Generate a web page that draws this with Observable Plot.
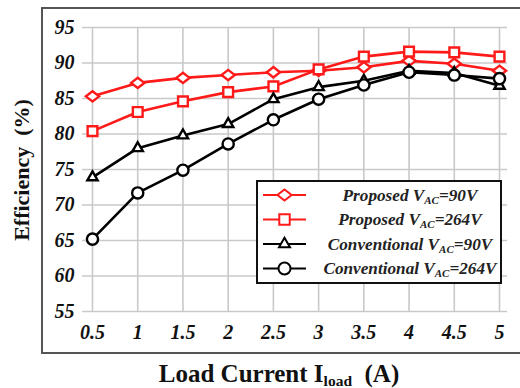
<!DOCTYPE html>
<html>
<head>
<meta charset="utf-8">
<script src="https://cdn.jsdelivr.net/npm/d3@7"></script>
<script src="https://cdn.jsdelivr.net/npm/@observablehq/plot@0.6"></script>
<style>
  html, body { margin: 0; padding: 0; background: #fff; }
  #chart svg { display: block; }
</style>
</head>
<body>
<div id="chart"></div>
<script>
// Load current (A)
const loadCurrent = [0.5, 1, 1.5, 2, 2.5, 3, 3.5, 4, 4.5, 5];
const xTicks = [0.5, 1, 1.5, 2, 2.5, 3, 3.5, 4, 4.5, 5];
const yTicks = [55, 60, 65, 70, 75, 80, 85, 90, 95];

// Efficiency (%) per converter / input voltage
const proposed90 = [85.3, 87.2, 87.9, 88.3, 88.7, 88.9, 89.4, 90.3, 89.9, 88.9];
const proposed264 = [80.4, 83.1, 84.6, 85.9, 86.7, 89.1, 90.9, 91.6, 91.5, 90.9];
const conventional90 = [73.9, 78.0, 79.8, 81.4, 84.9, 86.6, 87.5, 88.9, 88.6, 86.8];
const conventional264 = [65.2, 71.7, 74.9, 78.6, 82.0, 84.9, 86.9, 88.7, 88.3, 87.8];

const seriesNames = ["Proposed", "Proposed", "Conventional", "Conventional"];
const seriesVoltages = ["90V", "264V", "90V", "264V"];
const seriesColors = ["#ff1a1a", "#ff1a1a", "#000000", "#000000"];
const seriesValues = [proposed90, proposed264, conventional90, conventional264];

// Wide, flat diamond outline
const diamondWide = {
  draw(context, size) {
    const s = Math.sqrt(size);
    const w = s * 0.72, h = s * 0.56;
    context.moveTo(0, -h);
    context.lineTo(w, 0);
    context.lineTo(0, h);
    context.lineTo(-w, 0);
    context.closePath();
  }
};
const seriesSymbols = [diamondWide, "square2", "triangle2", "circle"];
const seriesR = [5.2, 6.2, 4.9, 5.6];

const rows = [];
seriesValues.forEach((vals, i) => {
  vals.forEach((v, j) => rows.push({ k: i, x: loadCurrent[j], y: v }));
});

const serif = "Liberation Serif";

const tickText = {
  fill: "#111", fontFamily: serif, fontWeight: "bold", fontStyle: "italic", fontSize: 20
};

const marks = [
  Plot.gridX(xTicks, { stroke: "#c9c9c9", strokeOpacity: 1, strokeWidth: 1.6 }),
  Plot.gridY(yTicks, { stroke: "#c9c9c9", strokeOpacity: 1, strokeWidth: 1.6 }),
  // tick labels
  Plot.text(xTicks, { ...tickText, x: d => d, text: d => String(d), frameAnchor: "bottom", lineAnchor: "middle", dy: 21 }),
  Plot.text(yTicks, { ...tickText, y: d => d, text: d => String(d), frameAnchor: "left", textAnchor: "end", dx: -8 })
];
seriesValues.forEach((vals, i) => {
  const d = rows.filter(r => r.k === i);
  marks.push(Plot.line(d, { x: "x", y: "y", stroke: seriesColors[i], strokeWidth: 2.6 }));
});
seriesValues.forEach((vals, i) => {
  const d = rows.filter(r => r.k === i);
  marks.push(Plot.dot(d, {
    x: "x", y: "y", symbol: () => seriesSymbols[i], r: seriesR[i],
    stroke: seriesColors[i], fill: "white", strokeWidth: 2.4
  }));
});

const chart = Plot.plot({
  width: 520,
  height: 388,
  marginLeft: 82,
  marginRight: 13,
  marginTop: 27,
  marginBottom: 77,
  insetLeft: 10,
  insetRight: 8,
  x: { domain: [0.5, 5], axis: null },
  y: { domain: [55, 95], axis: null },
  symbol: { type: "identity" },
  style: { background: "white", overflow: "visible" },
  marks
});

const svg = d3.select(chart);

// Outer border around the whole chart area
svg.insert("rect", ":first-child")
  .attr("x", 42).attr("y", 8).attr("width", 500).attr("height", 345)
  .attr("fill", "none").attr("stroke", "#555").attr("stroke-width", 2);

// Axis titles
svg.append("text")
  .attr("transform", "translate(29,170) rotate(-90)")
  .attr("text-anchor", "middle")
  .style("font-family", serif).style("font-weight", "bold").style("font-style", "normal")
  .style("font-size", "22px")
  .attr("fill", "#111")
  .attr("xml:space", "preserve")
  .text("Efficiency  (%)");

const xt = svg.append("text")
  .attr("x", 279).attr("y", 382)
  .attr("text-anchor", "middle")
  .style("font-family", serif).style("font-weight", "bold").style("font-style", "normal")
  .style("font-size", "25px")
  .attr("fill", "#111")
  .attr("xml:space", "preserve");
xt.append("tspan").text("Load Current I");
xt.append("tspan").style("font-size", "15.5px").attr("dy", 4).text("load");
xt.append("tspan").attr("dy", -4).text("  (A)");

// Legend
const lg = svg.append("g");
lg.append("rect")
  .attr("x", 257).attr("y", 181).attr("width", 244).attr("height", 102)
  .attr("fill", "white").attr("stroke", "#111").attr("stroke-width", 2);
const rowY = [195, 219.5, 244, 268.5];
seriesNames.forEach((name, i) => {
  const y = rowY[i];
  lg.append("line")
    .attr("x1", 263).attr("x2", 306).attr("y1", y).attr("y2", y)
    .attr("stroke", seriesColors[i]).attr("stroke-width", 2);
  const sym = typeof seriesSymbols[i] === "string"
    ? { square2: d3.symbolSquare2, triangle2: d3.symbolTriangle2, circle: d3.symbolCircle }[seriesSymbols[i]]
    : seriesSymbols[i];
  lg.append("path")
    .attr("transform", `translate(284.5,${y})`)
    .attr("d", d3.symbol(sym, Math.PI * seriesR[i] * seriesR[i] * 1.15)())
    .attr("fill", "white").attr("stroke", seriesColors[i]).attr("stroke-width", 2);
  const t = lg.append("text")
    .attr("x", 410).attr("y", y + 5.5)
    .attr("text-anchor", "middle")
    .style("font-family", serif).style("font-weight", "bold").style("font-style", "italic")
    .style("font-size", "17.2px").attr("fill", "#222");
  t.append("tspan").text(name + " V");
  t.append("tspan").style("font-size", "11px").attr("dy", 3).text("AC");
  t.append("tspan").attr("dy", -3).text("=" + seriesVoltages[i]);
});

document.getElementById("chart").appendChild(chart);
</script>
</body>
</html>
